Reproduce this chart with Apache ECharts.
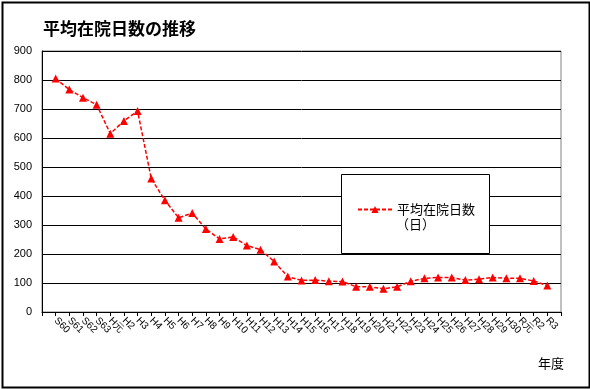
<!DOCTYPE html>
<html>
<head>
<meta charset="utf-8">
<script src="https://cdn.jsdelivr.net/npm/echarts@6/dist/echarts.min.js"></script>
<style>html,body{margin:0;padding:0;background:#fff;}#c{width:590px;height:389px;}</style>
</head>
<body>
<div id="c"></div>
<script>
var categories = ['S60','S61','S62','S63','H元','H2','H3','H4','H5','H6','H7','H8','H9','H10','H11','H12','H13','H14','H15','H16','H17','H18','H19','H20','H21','H22','H23','H24','H25','H26','H27','H28','H29','H30','R元','R2','R3'];
var avgStayDays = [805,767,739,715,615,659,693,460,385,325,341,286,252,259,229,215,174,122,109,110,106,105,87,87,80,87,106,116,119,119,110,113,119,116,116,107,91];
var yTicks = [0,100,200,300,400,500,600,700,800,900];
var seriesName = '平均在院日数';
var titleText = '平均在院日数の推移';
var unitText = '（日）';
var xAxisTitle = '年度';

var axisCats = [''].concat(categories).concat(['']);
var seriesData = ['-'].concat(avgStayDays).concat(['-']);
var jp = '"Noto Sans CJK JP", sans-serif';

var chart = echarts.init(document.getElementById('c'), null, {renderer: 'canvas'});
chart.setOption({
  animation: false,
  backgroundColor: '#fff',
  title: {
    text: titleText, left: 38, top: 15,
    textStyle: {fontFamily: jp, fontSize: 17, fontWeight: 'bold', color: '#000'}
  },
  grid: {left: 42, right: 29, top: 51, bottom: 77, show: true, borderColor: '#808080', borderWidth: 1},
  xAxis: {
    type: 'category', data: axisCats, boundaryGap: false,
    axisLine: {lineStyle: {color: '#000', width: 1}},
    axisTick: {show: true, interval: 0, length: 4, inside: false, lineStyle: {color: '#000'}},
    axisLabel: {interval: 0, rotate: -45, fontSize: 10, color: '#000', margin: 7, fontFamily: '"Liberation Sans", Arial, sans-serif'},
    splitLine: {show: false}
  },
  yAxis: {
    type: 'value', min: yTicks[0], max: yTicks[yTicks.length - 1], interval: 100,
    axisLine: {show: true, lineStyle: {color: '#000'}},
    axisTick: {show: false},
    axisLabel: {fontSize: 11, color: '#000', margin: 10, fontFamily: '"Liberation Sans", Arial, sans-serif'},
    splitLine: {show: true, lineStyle: {color: '#000', width: 1}}
  },
  legend: {
    data: [seriesName], left: 357, top: 203, orient: 'vertical', z: 20,
    itemWidth: 34, itemHeight: 9, itemGap: 0,
    textStyle: {fontFamily: jp, fontSize: 13, color: '#000'},
    padding: 0
  },
  graphic: [
    {type: 'rect', left: 341, top: 174, z: 5, shape: {width: 148, height: 79}, style: {fill: '#fff', stroke: '#000', lineWidth: 1}},
    {type: 'text', left: 396, top: 218, z: 21, style: {text: unitText, font: '13px "Noto Sans CJK JP", sans-serif', fill: '#000'}},
    {type: 'text', left: 538, top: 357, z: 21, style: {text: xAxisTitle, font: '13px "Noto Sans CJK JP", sans-serif', fill: '#000'}},
    {type: 'rect', left: 0, top: 0, z: 21, shape: {x: 1, y: 1, width: 587, height: 385}, style: {fill: 'none', stroke: '#000', lineWidth: 2}}
  ],
  series: [{
    name: seriesName, type: 'line', data: seriesData,
    symbol: 'triangle', symbolSize: 8,
    itemStyle: {color: '#ff0000'},
    lineStyle: {color: '#ff0000', width: 1.5, type: [4, 2]},
    z: 3
  }]
});
</script>
</body>
</html>
